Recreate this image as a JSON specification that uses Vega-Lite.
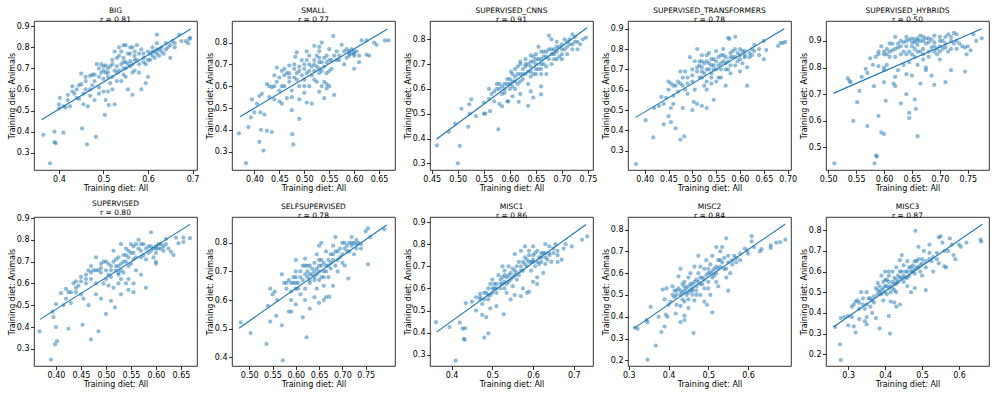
{
"$schema":"https://vega.github.io/schema/vega-lite/v6.json",
"padding":{"left":7,"top":6,"right":5,"bottom":5},
"columns":5,
"spacing":{"row":47,"column":35},
"bounds":"flush",
"datasets":{
"fit":[
{"p":1,"x":0.361,"y":0.456},{"p":1,"x":0.696,"y":0.887},
{"p":2,"x":0.371,"y":0.46},{"p":2,"x":0.667,"y":0.862},
{"p":3,"x":0.459,"y":0.397},{"p":3,"x":0.748,"y":0.847},
{"p":4,"x":0.381,"y":0.464},{"p":4,"x":0.693,"y":0.9},
{"p":5,"x":0.509,"y":0.703},{"p":5,"x":0.775,"y":0.946},
{"p":6,"x":0.368,"y":0.435},{"p":6,"x":0.668,"y":0.871},
{"p":7,"x":0.478,"y":0.502},{"p":7,"x":0.795,"y":0.862},
{"p":8,"x":0.363,"y":0.402},{"p":8,"x":0.73,"y":0.889},
{"p":9,"x":0.314,"y":0.348},{"p":9,"x":0.693,"y":0.825},
{"p":10,"x":0.26,"y":0.332},{"p":10,"x":0.663,"y":0.829}
],
"pts":[
{"p":1,"x":0.365,"y":0.385},{"p":1,"x":0.38,"y":0.25},{"p":1,"x":0.39,"y":0.40},{"p":1,"x":0.39,"y":0.35},{"p":1,"x":0.393,"y":0.345},{"p":1,"x":0.41,"y":0.395},{"p":1,"x":0.452,"y":0.415},{"p":1,"x":0.463,"y":0.34},{"p":1,"x":0.483,"y":0.375},{"p":1,"x":0.503,"y":0.48},{"p":1,"x":0.525,"y":0.53},{"p":1,"x":0.512,"y":0.526},
{"p":1,"x":0.40,"y":0.51},{"p":1,"x":0.40,"y":0.53},{"p":1,"x":0.402,"y":0.56},{"p":1,"x":0.41,"y":0.52},{"p":1,"x":0.415,"y":0.515},{"p":1,"x":0.42,"y":0.575},{"p":1,"x":0.425,"y":0.52},{"p":1,"x":0.43,"y":0.59},{"p":1,"x":0.43,"y":0.615},{"p":1,"x":0.435,"y":0.58},{"p":1,"x":0.44,"y":0.56},{"p":1,"x":0.44,"y":0.6},{"p":1,"x":0.445,"y":0.555},{"p":1,"x":0.45,"y":0.675},{"p":1,"x":0.45,"y":0.625},{"p":1,"x":0.455,"y":0.53},{"p":1,"x":0.46,"y":0.6},{"p":1,"x":0.46,"y":0.64},{"p":1,"x":0.465,"y":0.52},{"p":1,"x":0.47,"y":0.665},{"p":1,"x":0.47,"y":0.57},{"p":1,"x":0.475,"y":0.67},{"p":1,"x":0.48,"y":0.55},{"p":1,"x":0.48,"y":0.64},{"p":1,"x":0.485,"y":0.72},{"p":1,"x":0.49,"y":0.7},{"p":1,"x":0.49,"y":0.66},{"p":1,"x":0.49,"y":0.61},{"p":1,"x":0.495,"y":0.72},{"p":1,"x":0.5,"y":0.69},{"p":1,"x":0.5,"y":0.59},{"p":1,"x":0.5,"y":0.65},{"p":1,"x":0.505,"y":0.715},{"p":1,"x":0.51,"y":0.66},{"p":1,"x":0.51,"y":0.7},{"p":1,"x":0.515,"y":0.63},{"p":1,"x":0.52,"y":0.74},{"p":1,"x":0.52,"y":0.6},{"p":1,"x":0.52,"y":0.72},{"p":1,"x":0.525,"y":0.78},{"p":1,"x":0.53,"y":0.71},{"p":1,"x":0.53,"y":0.68},{"p":1,"x":0.535,"y":0.8},{"p":1,"x":0.535,"y":0.76},{"p":1,"x":0.54,"y":0.72},{"p":1,"x":0.54,"y":0.64},{"p":1,"x":0.545,"y":0.75},{"p":1,"x":0.545,"y":0.7},{"p":1,"x":0.55,"y":0.81},{"p":1,"x":0.55,"y":0.73},{"p":1,"x":0.55,"y":0.66},{"p":1,"x":0.555,"y":0.6},{"p":1,"x":0.56,"y":0.77},{"p":1,"x":0.56,"y":0.71},{"p":1,"x":0.565,"y":0.8},{"p":1,"x":0.565,"y":0.575},{"p":1,"x":0.57,"y":0.74},{"p":1,"x":0.57,"y":0.69},{"p":1,"x":0.575,"y":0.81},{"p":1,"x":0.58,"y":0.77},{"p":1,"x":0.58,"y":0.68},{"p":1,"x":0.585,"y":0.6},{"p":1,"x":0.59,"y":0.75},{"p":1,"x":0.59,"y":0.73},{"p":1,"x":0.595,"y":0.63},{"p":1,"x":0.6,"y":0.78},{"p":1,"x":0.6,"y":0.74},{"p":1,"x":0.605,"y":0.77},{"p":1,"x":0.61,"y":0.8},{"p":1,"x":0.61,"y":0.76},{"p":1,"x":0.615,"y":0.78},{"p":1,"x":0.62,"y":0.86},{"p":1,"x":0.62,"y":0.82},{"p":1,"x":0.62,"y":0.77},{"p":1,"x":0.625,"y":0.79},{"p":1,"x":0.63,"y":0.8},{"p":1,"x":0.635,"y":0.77},{"p":1,"x":0.64,"y":0.82},{"p":1,"x":0.645,"y":0.8},{"p":1,"x":0.65,"y":0.75},{"p":1,"x":0.655,"y":0.83},{"p":1,"x":0.66,"y":0.82},{"p":1,"x":0.67,"y":0.86},{"p":1,"x":0.69,"y":0.82},{"p":1,"x":0.693,"y":0.84},{"p":1,"x":0.695,"y":0.845},{"p":1,"x":0.58,"y":0.72},{"p":1,"x":0.535,"y":0.69},{"p":1,"x":0.505,"y":0.55},{"p":1,"x":0.56,"y":0.735},{"p":1,"x":0.6,"y":0.66},{"p":1,"x":0.51,"y":0.59},{"p":1,"x":0.49,"y":0.58},{"p":1,"x":0.47,"y":0.6},{"p":1,"x":0.545,"y":0.81},{"p":1,"x":0.565,"y":0.68},
{"p":1,"x":0.505,"y":0.68},{"p":1,"x":0.515,"y":0.71},{"p":1,"x":0.525,"y":0.69},{"p":1,"x":0.53,"y":0.75},{"p":1,"x":0.54,"y":0.78},{"p":1,"x":0.545,"y":0.73},{"p":1,"x":0.55,"y":0.7},{"p":1,"x":0.555,"y":0.77},{"p":1,"x":0.56,"y":0.8},{"p":1,"x":0.565,"y":0.72},{"p":1,"x":0.57,"y":0.78},{"p":1,"x":0.575,"y":0.74},{"p":1,"x":0.585,"y":0.79},{"p":1,"x":0.59,"y":0.77},{"p":1,"x":0.595,"y":0.72},{"p":1,"x":0.605,"y":0.74},{"p":1,"x":0.61,"y":0.78},{"p":1,"x":0.615,"y":0.75},{"p":1,"x":0.62,"y":0.79},{"p":1,"x":0.625,"y":0.76},{"p":1,"x":0.63,"y":0.78},{"p":1,"x":0.64,"y":0.79},{"p":1,"x":0.65,"y":0.81},{"p":1,"x":0.66,"y":0.8},{"p":1,"x":0.675,"y":0.83},{"p":1,"x":0.685,"y":0.83},{"p":1,"x":0.48,"y":0.67},{"p":1,"x":0.495,"y":0.68},{"p":1,"x":0.5,"y":0.71},{"p":1,"x":0.51,"y":0.68},{"p":1,"x":0.52,"y":0.66},{"p":1,"x":0.53,"y":0.64},{"p":1,"x":0.46,"y":0.66},{"p":1,"x":0.445,"y":0.62},{"p":1,"x":0.42,"y":0.55},{"p":1,"x":0.455,"y":0.58},{"p":1,"x":0.475,"y":0.62},{"p":1,"x":0.545,"y":0.67},{"p":1,"x":0.555,"y":0.72},{"p":1,"x":0.57,"y":0.76},
{"p":2,"x":0.369,"y":0.384},{"p":2,"x":0.383,"y":0.247},{"p":2,"x":0.388,"y":0.413},{"p":2,"x":0.393,"y":0.457},{"p":2,"x":0.395,"y":0.54},{"p":2,"x":0.41,"y":0.345},{"p":2,"x":0.413,"y":0.40},{"p":2,"x":0.418,"y":0.305},{"p":2,"x":0.425,"y":0.395},{"p":2,"x":0.435,"y":0.39},{"p":2,"x":0.476,"y":0.38},{"p":2,"x":0.478,"y":0.333},{"p":2,"x":0.49,"y":0.45},{"p":2,"x":0.45,"y":0.53},
{"p":2,"x":0.40,"y":0.48},{"p":2,"x":0.405,"y":0.52},{"p":2,"x":0.41,"y":0.555},{"p":2,"x":0.412,"y":0.48},{"p":2,"x":0.415,"y":0.565},{"p":2,"x":0.42,"y":0.47},{"p":2,"x":0.425,"y":0.61},{"p":2,"x":0.43,"y":0.55},{"p":2,"x":0.435,"y":0.595},{"p":2,"x":0.44,"y":0.6},{"p":2,"x":0.44,"y":0.54},{"p":2,"x":0.445,"y":0.685},{"p":2,"x":0.445,"y":0.62},{"p":2,"x":0.45,"y":0.64},{"p":2,"x":0.45,"y":0.58},{"p":2,"x":0.455,"y":0.52},{"p":2,"x":0.455,"y":0.67},{"p":2,"x":0.46,"y":0.65},{"p":2,"x":0.46,"y":0.6},{"p":2,"x":0.465,"y":0.66},{"p":2,"x":0.465,"y":0.545},{"p":2,"x":0.47,"y":0.695},{"p":2,"x":0.47,"y":0.62},{"p":2,"x":0.475,"y":0.58},{"p":2,"x":0.475,"y":0.55},{"p":2,"x":0.48,"y":0.68},{"p":2,"x":0.48,"y":0.64},{"p":2,"x":0.482,"y":0.735},{"p":2,"x":0.485,"y":0.755},{"p":2,"x":0.485,"y":0.66},{"p":2,"x":0.49,"y":0.69},{"p":2,"x":0.49,"y":0.6},{"p":2,"x":0.49,"y":0.54},{"p":2,"x":0.495,"y":0.72},{"p":2,"x":0.495,"y":0.65},{"p":2,"x":0.5,"y":0.68},{"p":2,"x":0.5,"y":0.63},{"p":2,"x":0.5,"y":0.57},{"p":2,"x":0.505,"y":0.76},{"p":2,"x":0.505,"y":0.66},{"p":2,"x":0.51,"y":0.7},{"p":2,"x":0.51,"y":0.74},{"p":2,"x":0.51,"y":0.6},{"p":2,"x":0.515,"y":0.65},{"p":2,"x":0.515,"y":0.52},{"p":2,"x":0.52,"y":0.785},{"p":2,"x":0.52,"y":0.67},{"p":2,"x":0.52,"y":0.72},{"p":2,"x":0.525,"y":0.69},{"p":2,"x":0.525,"y":0.62},{"p":2,"x":0.53,"y":0.78},{"p":2,"x":0.53,"y":0.76},{"p":2,"x":0.53,"y":0.71},{"p":2,"x":0.535,"y":0.67},{"p":2,"x":0.535,"y":0.6},{"p":2,"x":0.54,"y":0.73},{"p":2,"x":0.54,"y":0.545},{"p":2,"x":0.545,"y":0.71},{"p":2,"x":0.545,"y":0.61},{"p":2,"x":0.55,"y":0.77},{"p":2,"x":0.55,"y":0.67},{"p":2,"x":0.555,"y":0.72},{"p":2,"x":0.558,"y":0.83},{"p":2,"x":0.56,"y":0.56},{"p":2,"x":0.565,"y":0.72},{"p":2,"x":0.57,"y":0.74},{"p":2,"x":0.575,"y":0.79},{"p":2,"x":0.58,"y":0.76},{"p":2,"x":0.58,"y":0.7},{"p":2,"x":0.585,"y":0.73},{"p":2,"x":0.59,"y":0.76},{"p":2,"x":0.59,"y":0.75},{"p":2,"x":0.595,"y":0.77},{"p":2,"x":0.6,"y":0.76},{"p":2,"x":0.6,"y":0.74},{"p":2,"x":0.6,"y":0.68},{"p":2,"x":0.61,"y":0.71},{"p":2,"x":0.615,"y":0.81},{"p":2,"x":0.625,"y":0.81},{"p":2,"x":0.625,"y":0.745},{"p":2,"x":0.63,"y":0.74},{"p":2,"x":0.64,"y":0.8},{"p":2,"x":0.645,"y":0.79},{"p":2,"x":0.662,"y":0.81},{"p":2,"x":0.669,"y":0.81},{"p":2,"x":0.535,"y":0.8},{"p":2,"x":0.505,"y":0.525},{"p":2,"x":0.545,"y":0.59},{"p":2,"x":0.53,"y":0.575},{"p":2,"x":0.475,"y":0.49},
{"p":2,"x":0.46,"y":0.68},{"p":2,"x":0.47,"y":0.66},{"p":2,"x":0.48,"y":0.7},{"p":2,"x":0.49,"y":0.67},{"p":2,"x":0.5,"y":0.7},{"p":2,"x":0.505,"y":0.72},{"p":2,"x":0.51,"y":0.67},{"p":2,"x":0.515,"y":0.69},{"p":2,"x":0.52,"y":0.7},{"p":2,"x":0.525,"y":0.74},{"p":2,"x":0.53,"y":0.68},{"p":2,"x":0.535,"y":0.71},{"p":2,"x":0.54,"y":0.69},{"p":2,"x":0.545,"y":0.74},{"p":2,"x":0.55,"y":0.72},{"p":2,"x":0.555,"y":0.68},{"p":2,"x":0.56,"y":0.74},{"p":2,"x":0.565,"y":0.76},{"p":2,"x":0.57,"y":0.72},{"p":2,"x":0.59,"y":0.74},{"p":2,"x":0.595,"y":0.75},{"p":2,"x":0.6,"y":0.75},{"p":2,"x":0.605,"y":0.76},{"p":2,"x":0.61,"y":0.74},{"p":2,"x":0.585,"y":0.77},{"p":2,"x":0.53,"y":0.73},{"p":2,"x":0.52,"y":0.63},{"p":2,"x":0.5,"y":0.6},{"p":2,"x":0.485,"y":0.63},{"p":2,"x":0.47,"y":0.64},{"p":2,"x":0.455,"y":0.6},{"p":2,"x":0.44,"y":0.65},{"p":2,"x":0.43,"y":0.6},{"p":2,"x":0.53,"y":0.66},{"p":2,"x":0.54,"y":0.62},{"p":2,"x":0.55,"y":0.6},{"p":2,"x":0.545,"y":0.66},
{"p":3,"x":0.46,"y":0.372},{"p":3,"x":0.483,"y":0.427},{"p":3,"x":0.495,"y":0.46},{"p":3,"x":0.5,"y":0.30},{"p":3,"x":0.504,"y":0.37},{"p":3,"x":0.507,"y":0.52},{"p":3,"x":0.52,"y":0.447},{"p":3,"x":0.522,"y":0.538},{"p":3,"x":0.526,"y":0.558},{"p":3,"x":0.523,"y":0.5},{"p":3,"x":0.535,"y":0.49},{"p":3,"x":0.55,"y":0.50},{"p":3,"x":0.553,"y":0.50},{"p":3,"x":0.562,"y":0.51},{"p":3,"x":0.578,"y":0.437},{"p":3,"x":0.58,"y":0.54},{"p":3,"x":0.585,"y":0.53},{"p":3,"x":0.597,"y":0.55},{"p":3,"x":0.617,"y":0.548},{"p":3,"x":0.635,"y":0.532},{"p":3,"x":0.645,"y":0.565},{"p":3,"x":0.66,"y":0.578},
{"p":3,"x":0.55,"y":0.545},{"p":3,"x":0.56,"y":0.56},{"p":3,"x":0.565,"y":0.58},{"p":3,"x":0.57,"y":0.55},{"p":3,"x":0.575,"y":0.6},{"p":3,"x":0.58,"y":0.6},{"p":3,"x":0.585,"y":0.61},{"p":3,"x":0.59,"y":0.585},{"p":3,"x":0.59,"y":0.62},{"p":3,"x":0.595,"y":0.64},{"p":3,"x":0.6,"y":0.62},{"p":3,"x":0.6,"y":0.6},{"p":3,"x":0.602,"y":0.67},{"p":3,"x":0.605,"y":0.63},{"p":3,"x":0.61,"y":0.65},{"p":3,"x":0.61,"y":0.6},{"p":3,"x":0.615,"y":0.69},{"p":3,"x":0.615,"y":0.62},{"p":3,"x":0.62,"y":0.66},{"p":3,"x":0.62,"y":0.7},{"p":3,"x":0.625,"y":0.68},{"p":3,"x":0.625,"y":0.64},{"p":3,"x":0.63,"y":0.72},{"p":3,"x":0.63,"y":0.66},{"p":3,"x":0.635,"y":0.7},{"p":3,"x":0.635,"y":0.62},{"p":3,"x":0.64,"y":0.735},{"p":3,"x":0.64,"y":0.69},{"p":3,"x":0.645,"y":0.71},{"p":3,"x":0.645,"y":0.66},{"p":3,"x":0.65,"y":0.74},{"p":3,"x":0.65,"y":0.7},{"p":3,"x":0.655,"y":0.77},{"p":3,"x":0.655,"y":0.68},{"p":3,"x":0.66,"y":0.72},{"p":3,"x":0.66,"y":0.66},{"p":3,"x":0.665,"y":0.75},{"p":3,"x":0.665,"y":0.7},{"p":3,"x":0.67,"y":0.73},{"p":3,"x":0.67,"y":0.69},{"p":3,"x":0.675,"y":0.815},{"p":3,"x":0.675,"y":0.76},{"p":3,"x":0.68,"y":0.74},{"p":3,"x":0.68,"y":0.7},{"p":3,"x":0.685,"y":0.76},{"p":3,"x":0.685,"y":0.72},{"p":3,"x":0.69,"y":0.79},{"p":3,"x":0.69,"y":0.75},{"p":3,"x":0.695,"y":0.73},{"p":3,"x":0.7,"y":0.78},{"p":3,"x":0.7,"y":0.76},{"p":3,"x":0.705,"y":0.8},{"p":3,"x":0.71,"y":0.77},{"p":3,"x":0.71,"y":0.74},{"p":3,"x":0.715,"y":0.8},{"p":3,"x":0.72,"y":0.82},{"p":3,"x":0.72,"y":0.78},{"p":3,"x":0.725,"y":0.81},{"p":3,"x":0.73,"y":0.79},{"p":3,"x":0.73,"y":0.76},{"p":3,"x":0.74,"y":0.8},{"p":3,"x":0.746,"y":0.807},{"p":3,"x":0.64,"y":0.65},{"p":3,"x":0.66,"y":0.61},{"p":3,"x":0.62,"y":0.58},{"p":3,"x":0.595,"y":0.55},{"p":3,"x":0.64,"y":0.59},{"p":3,"x":0.67,"y":0.66},{"p":3,"x":0.68,"y":0.8},{"p":3,"x":0.7,"y":0.72},{"p":3,"x":0.605,"y":0.57},{"p":3,"x":0.575,"y":0.62},{"p":3,"x":0.56,"y":0.6},{"p":3,"x":0.63,"y":0.69},{"p":3,"x":0.65,"y":0.72},{"p":3,"x":0.62,"y":0.71},{"p":3,"x":0.66,"y":0.75},{"p":3,"x":0.61,"y":0.68},{"p":3,"x":0.69,"y":0.77},
{"p":3,"x":0.6,"y":0.64},{"p":3,"x":0.605,"y":0.61},{"p":3,"x":0.61,"y":0.63},{"p":3,"x":0.615,"y":0.66},{"p":3,"x":0.62,"y":0.63},{"p":3,"x":0.625,"y":0.66},{"p":3,"x":0.63,"y":0.7},{"p":3,"x":0.635,"y":0.67},{"p":3,"x":0.64,"y":0.71},{"p":3,"x":0.645,"y":0.73},{"p":3,"x":0.65,"y":0.68},{"p":3,"x":0.655,"y":0.72},{"p":3,"x":0.66,"y":0.7},{"p":3,"x":0.665,"y":0.73},{"p":3,"x":0.67,"y":0.75},{"p":3,"x":0.675,"y":0.72},{"p":3,"x":0.68,"y":0.76},{"p":3,"x":0.685,"y":0.74},{"p":3,"x":0.69,"y":0.72},{"p":3,"x":0.695,"y":0.77},{"p":3,"x":0.7,"y":0.74},{"p":3,"x":0.705,"y":0.76},{"p":3,"x":0.71,"y":0.79},{"p":3,"x":0.715,"y":0.78},{"p":3,"x":0.72,"y":0.76},{"p":3,"x":0.725,"y":0.79},{"p":3,"x":0.735,"y":0.78},{"p":3,"x":0.59,"y":0.6},{"p":3,"x":0.585,"y":0.58},{"p":3,"x":0.57,"y":0.59},{"p":3,"x":0.58,"y":0.62},{"p":3,"x":0.595,"y":0.62},{"p":3,"x":0.605,"y":0.66},{"p":3,"x":0.64,"y":0.67},{"p":3,"x":0.65,"y":0.66},{"p":3,"x":0.66,"y":0.68},
{"p":4,"x":0.382,"y":0.235},{"p":4,"x":0.402,"y":0.45},{"p":4,"x":0.418,"y":0.365},{"p":4,"x":0.44,"y":0.43},{"p":4,"x":0.45,"y":0.47},{"p":4,"x":0.455,"y":0.44},{"p":4,"x":0.465,"y":0.41},{"p":4,"x":0.475,"y":0.355},{"p":4,"x":0.483,"y":0.37},{"p":4,"x":0.48,"y":0.51},{"p":4,"x":0.5,"y":0.50},{"p":4,"x":0.51,"y":0.53},{"p":4,"x":0.52,"y":0.52},{"p":4,"x":0.53,"y":0.51},{"p":4,"x":0.545,"y":0.55},{"p":4,"x":0.503,"y":0.54},{"p":4,"x":0.455,"y":0.51},
{"p":4,"x":0.42,"y":0.51},{"p":4,"x":0.43,"y":0.52},{"p":4,"x":0.435,"y":0.565},{"p":4,"x":0.44,"y":0.53},{"p":4,"x":0.445,"y":0.56},{"p":4,"x":0.45,"y":0.64},{"p":4,"x":0.45,"y":0.6},{"p":4,"x":0.455,"y":0.63},{"p":4,"x":0.46,"y":0.53},{"p":4,"x":0.46,"y":0.57},{"p":4,"x":0.465,"y":0.62},{"p":4,"x":0.47,"y":0.59},{"p":4,"x":0.475,"y":0.69},{"p":4,"x":0.475,"y":0.63},{"p":4,"x":0.48,"y":0.62},{"p":4,"x":0.485,"y":0.69},{"p":4,"x":0.485,"y":0.6},{"p":4,"x":0.49,"y":0.66},{"p":4,"x":0.49,"y":0.58},{"p":4,"x":0.495,"y":0.76},{"p":4,"x":0.5,"y":0.7},{"p":4,"x":0.5,"y":0.64},{"p":4,"x":0.505,"y":0.74},{"p":4,"x":0.505,"y":0.6},{"p":4,"x":0.51,"y":0.8},{"p":4,"x":0.51,"y":0.69},{"p":4,"x":0.515,"y":0.72},{"p":4,"x":0.515,"y":0.66},{"p":4,"x":0.52,"y":0.77},{"p":4,"x":0.52,"y":0.71},{"p":4,"x":0.525,"y":0.68},{"p":4,"x":0.525,"y":0.62},{"p":4,"x":0.53,"y":0.74},{"p":4,"x":0.53,"y":0.64},{"p":4,"x":0.535,"y":0.7},{"p":4,"x":0.535,"y":0.78},{"p":4,"x":0.54,"y":0.72},{"p":4,"x":0.54,"y":0.68},{"p":4,"x":0.545,"y":0.75},{"p":4,"x":0.545,"y":0.7},{"p":4,"x":0.55,"y":0.79},{"p":4,"x":0.55,"y":0.74},{"p":4,"x":0.555,"y":0.66},{"p":4,"x":0.555,"y":0.72},{"p":4,"x":0.56,"y":0.77},{"p":4,"x":0.56,"y":0.7},{"p":4,"x":0.565,"y":0.8},{"p":4,"x":0.565,"y":0.74},{"p":4,"x":0.57,"y":0.76},{"p":4,"x":0.57,"y":0.62},{"p":4,"x":0.575,"y":0.855},{"p":4,"x":0.575,"y":0.7},{"p":4,"x":0.578,"y":0.85},{"p":4,"x":0.58,"y":0.78},{"p":4,"x":0.585,"y":0.76},{"p":4,"x":0.59,"y":0.86},{"p":4,"x":0.59,"y":0.8},{"p":4,"x":0.59,"y":0.72},{"p":4,"x":0.595,"y":0.78},{"p":4,"x":0.6,"y":0.8},{"p":4,"x":0.6,"y":0.75},{"p":4,"x":0.605,"y":0.73},{"p":4,"x":0.61,"y":0.79},{"p":4,"x":0.61,"y":0.76},{"p":4,"x":0.615,"y":0.62},{"p":4,"x":0.615,"y":0.71},{"p":4,"x":0.62,"y":0.78},{"p":4,"x":0.625,"y":0.77},{"p":4,"x":0.63,"y":0.82},{"p":4,"x":0.63,"y":0.79},{"p":4,"x":0.64,"y":0.8},{"p":4,"x":0.65,"y":0.84},{"p":4,"x":0.65,"y":0.75},{"p":4,"x":0.655,"y":0.795},{"p":4,"x":0.68,"y":0.815},{"p":4,"x":0.685,"y":0.83},{"p":4,"x":0.69,"y":0.83},{"p":4,"x":0.695,"y":0.835},{"p":4,"x":0.6,"y":0.69},{"p":4,"x":0.56,"y":0.66},{"p":4,"x":0.53,"y":0.6},{"p":4,"x":0.54,"y":0.63},{"p":4,"x":0.58,"y":0.72},{"p":4,"x":0.52,"y":0.66},{"p":4,"x":0.57,"y":0.73},
{"p":4,"x":0.5,"y":0.67},{"p":4,"x":0.51,"y":0.71},{"p":4,"x":0.515,"y":0.74},{"p":4,"x":0.52,"y":0.69},{"p":4,"x":0.525,"y":0.73},{"p":4,"x":0.53,"y":0.7},{"p":4,"x":0.535,"y":0.73},{"p":4,"x":0.54,"y":0.75},{"p":4,"x":0.545,"y":0.72},{"p":4,"x":0.55,"y":0.7},{"p":4,"x":0.555,"y":0.76},{"p":4,"x":0.56,"y":0.73},{"p":4,"x":0.565,"y":0.77},{"p":4,"x":0.57,"y":0.7},{"p":4,"x":0.575,"y":0.74},{"p":4,"x":0.58,"y":0.76},{"p":4,"x":0.585,"y":0.79},{"p":4,"x":0.59,"y":0.76},{"p":4,"x":0.595,"y":0.74},{"p":4,"x":0.6,"y":0.77},{"p":4,"x":0.605,"y":0.79},{"p":4,"x":0.61,"y":0.77},{"p":4,"x":0.62,"y":0.76},{"p":4,"x":0.625,"y":0.8},{"p":4,"x":0.64,"y":0.77},{"p":4,"x":0.48,"y":0.66},{"p":4,"x":0.49,"y":0.63},{"p":4,"x":0.47,"y":0.64},{"p":4,"x":0.46,"y":0.62},{"p":4,"x":0.54,"y":0.66},{"p":4,"x":0.55,"y":0.64},{"p":4,"x":0.58,"y":0.68},{"p":4,"x":0.52,"y":0.74},{"p":4,"x":0.53,"y":0.77},
{"p":5,"x":0.511,"y":0.44},{"p":5,"x":0.545,"y":0.60},{"p":5,"x":0.552,"y":0.67},{"p":5,"x":0.556,"y":0.712},{"p":5,"x":0.57,"y":0.58},{"p":5,"x":0.582,"y":0.73},{"p":5,"x":0.583,"y":0.44},{"p":5,"x":0.586,"y":0.47},{"p":5,"x":0.587,"y":0.465},{"p":5,"x":0.59,"y":0.618},{"p":5,"x":0.595,"y":0.556},{"p":5,"x":0.6,"y":0.55},{"p":5,"x":0.603,"y":0.675},{"p":5,"x":0.6,"y":0.745},{"p":5,"x":0.617,"y":0.74},{"p":5,"x":0.62,"y":0.73},{"p":5,"x":0.63,"y":0.665},{"p":5,"x":0.64,"y":0.70},{"p":5,"x":0.645,"y":0.61},{"p":5,"x":0.645,"y":0.63},{"p":5,"x":0.655,"y":0.68},{"p":5,"x":0.657,"y":0.645},{"p":5,"x":0.66,"y":0.542},{"p":5,"x":0.665,"y":0.74},{"p":5,"x":0.69,"y":0.735},{"p":5,"x":0.71,"y":0.745},{"p":5,"x":0.745,"y":0.785},{"p":5,"x":0.535,"y":0.76},{"p":5,"x":0.54,"y":0.745},{"p":5,"x":0.538,"y":0.75},{"p":5,"x":0.56,"y":0.765},{"p":5,"x":0.567,"y":0.795},
{"p":5,"x":0.575,"y":0.835},{"p":5,"x":0.58,"y":0.81},{"p":5,"x":0.585,"y":0.84},{"p":5,"x":0.59,"y":0.805},{"p":5,"x":0.59,"y":0.86},{"p":5,"x":0.595,"y":0.88},{"p":5,"x":0.6,"y":0.85},{"p":5,"x":0.6,"y":0.79},{"p":5,"x":0.605,"y":0.87},{"p":5,"x":0.61,"y":0.84},{"p":5,"x":0.61,"y":0.89},{"p":5,"x":0.615,"y":0.865},{"p":5,"x":0.62,"y":0.915},{"p":5,"x":0.62,"y":0.84},{"p":5,"x":0.625,"y":0.875},{"p":5,"x":0.63,"y":0.9},{"p":5,"x":0.63,"y":0.85},{"p":5,"x":0.635,"y":0.81},{"p":5,"x":0.64,"y":0.915},{"p":5,"x":0.64,"y":0.88},{"p":5,"x":0.645,"y":0.86},{"p":5,"x":0.645,"y":0.82},{"p":5,"x":0.65,"y":0.91},{"p":5,"x":0.65,"y":0.895},{"p":5,"x":0.655,"y":0.87},{"p":5,"x":0.655,"y":0.84},{"p":5,"x":0.66,"y":0.91},{"p":5,"x":0.66,"y":0.885},{"p":5,"x":0.665,"y":0.92},{"p":5,"x":0.665,"y":0.86},{"p":5,"x":0.67,"y":0.9},{"p":5,"x":0.67,"y":0.83},{"p":5,"x":0.675,"y":0.89},{"p":5,"x":0.675,"y":0.8},{"p":5,"x":0.68,"y":0.91},{"p":5,"x":0.68,"y":0.86},{"p":5,"x":0.685,"y":0.875},{"p":5,"x":0.69,"y":0.92},{"p":5,"x":0.69,"y":0.895},{"p":5,"x":0.695,"y":0.85},{"p":5,"x":0.7,"y":0.9},{"p":5,"x":0.7,"y":0.83},{"p":5,"x":0.705,"y":0.87},{"p":5,"x":0.71,"y":0.915},{"p":5,"x":0.71,"y":0.89},{"p":5,"x":0.715,"y":0.925},{"p":5,"x":0.715,"y":0.86},{"p":5,"x":0.72,"y":0.9},{"p":5,"x":0.725,"y":0.93},{"p":5,"x":0.73,"y":0.925},{"p":5,"x":0.73,"y":0.87},{"p":5,"x":0.745,"y":0.875},{"p":5,"x":0.75,"y":0.88},{"p":5,"x":0.755,"y":0.865},{"p":5,"x":0.76,"y":0.925},{"p":5,"x":0.765,"y":0.9},{"p":5,"x":0.775,"y":0.91},{"p":5,"x":0.748,"y":0.85},{"p":5,"x":0.64,"y":0.775},{"p":5,"x":0.65,"y":0.77},{"p":5,"x":0.675,"y":0.79},{"p":5,"x":0.685,"y":0.77},{"p":5,"x":0.66,"y":0.81},{"p":5,"x":0.62,"y":0.765},{"p":5,"x":0.6,"y":0.8},{"p":5,"x":0.605,"y":0.81},{"p":5,"x":0.625,"y":0.79},{"p":5,"x":0.57,"y":0.78},{"p":5,"x":0.72,"y":0.79},{"p":5,"x":0.735,"y":0.89},{"p":5,"x":0.74,"y":0.88},{"p":5,"x":0.635,"y":0.86},{"p":5,"x":0.67,"y":0.87},{"p":5,"x":0.695,"y":0.87},{"p":5,"x":0.655,"y":0.905},{"p":5,"x":0.7,"y":0.88},
{"p":5,"x":0.62,"y":0.87},{"p":5,"x":0.625,"y":0.89},{"p":5,"x":0.63,"y":0.88},{"p":5,"x":0.635,"y":0.895},{"p":5,"x":0.64,"y":0.9},{"p":5,"x":0.645,"y":0.905},{"p":5,"x":0.65,"y":0.88},{"p":5,"x":0.655,"y":0.895},{"p":5,"x":0.66,"y":0.9},{"p":5,"x":0.665,"y":0.9},{"p":5,"x":0.67,"y":0.915},{"p":5,"x":0.675,"y":0.91},{"p":5,"x":0.68,"y":0.895},{"p":5,"x":0.685,"y":0.905},{"p":5,"x":0.69,"y":0.88},{"p":5,"x":0.7,"y":0.915},{"p":5,"x":0.705,"y":0.9},{"p":5,"x":0.71,"y":0.875},{"p":5,"x":0.72,"y":0.915},{"p":5,"x":0.725,"y":0.89},{"p":5,"x":0.73,"y":0.9},{"p":5,"x":0.61,"y":0.86},{"p":5,"x":0.605,"y":0.85},{"p":5,"x":0.615,"y":0.89},{"p":5,"x":0.6,"y":0.86},{"p":5,"x":0.59,"y":0.85},{"p":5,"x":0.64,"y":0.85},{"p":5,"x":0.66,"y":0.86},{"p":5,"x":0.68,"y":0.84},{"p":5,"x":0.7,"y":0.86},{"p":5,"x":0.72,"y":0.87},{"p":5,"x":0.65,"y":0.85},{"p":5,"x":0.67,"y":0.85},{"p":5,"x":0.69,"y":0.86},
{"p":6,"x":0.367,"y":0.38},{"p":6,"x":0.39,"y":0.25},{"p":6,"x":0.393,"y":0.47},{"p":6,"x":0.395,"y":0.445},{"p":6,"x":0.398,"y":0.32},{"p":6,"x":0.4,"y":0.4},{"p":6,"x":0.402,"y":0.335},{"p":6,"x":0.425,"y":0.392},{"p":6,"x":0.453,"y":0.41},{"p":6,"x":0.47,"y":0.343},{"p":6,"x":0.485,"y":0.38},{"p":6,"x":0.5,"y":0.46},{"p":6,"x":0.518,"y":0.49},{"p":6,"x":0.53,"y":0.55},{"p":6,"x":0.58,"y":0.58},{"p":6,"x":0.555,"y":0.56},{"p":6,"x":0.545,"y":0.57},{"p":6,"x":0.515,"y":0.58},{"p":6,"x":0.49,"y":0.53},{"p":6,"x":0.48,"y":0.55},{"p":6,"x":0.465,"y":0.5},
{"p":6,"x":0.4,"y":0.505},{"p":6,"x":0.41,"y":0.555},{"p":6,"x":0.415,"y":0.5},{"p":6,"x":0.42,"y":0.53},{"p":6,"x":0.42,"y":0.575},{"p":6,"x":0.425,"y":0.56},{"p":6,"x":0.43,"y":0.51},{"p":6,"x":0.435,"y":0.6},{"p":6,"x":0.44,"y":0.61},{"p":6,"x":0.44,"y":0.56},{"p":6,"x":0.445,"y":0.59},{"p":6,"x":0.45,"y":0.61},{"p":6,"x":0.45,"y":0.55},{"p":6,"x":0.455,"y":0.53},{"p":6,"x":0.46,"y":0.64},{"p":6,"x":0.46,"y":0.6},{"p":6,"x":0.465,"y":0.66},{"p":6,"x":0.47,"y":0.68},{"p":6,"x":0.47,"y":0.62},{"p":6,"x":0.475,"y":0.66},{"p":6,"x":0.48,"y":0.72},{"p":6,"x":0.48,"y":0.6},{"p":6,"x":0.485,"y":0.66},{"p":6,"x":0.49,"y":0.65},{"p":6,"x":0.49,"y":0.69},{"p":6,"x":0.495,"y":0.7},{"p":6,"x":0.5,"y":0.7},{"p":6,"x":0.5,"y":0.62},{"p":6,"x":0.505,"y":0.64},{"p":6,"x":0.51,"y":0.63},{"p":6,"x":0.51,"y":0.68},{"p":6,"x":0.515,"y":0.75},{"p":6,"x":0.52,"y":0.66},{"p":6,"x":0.52,"y":0.71},{"p":6,"x":0.525,"y":0.68},{"p":6,"x":0.525,"y":0.6},{"p":6,"x":0.53,"y":0.78},{"p":6,"x":0.53,"y":0.69},{"p":6,"x":0.535,"y":0.73},{"p":6,"x":0.535,"y":0.65},{"p":6,"x":0.54,"y":0.76},{"p":6,"x":0.54,"y":0.7},{"p":6,"x":0.545,"y":0.68},{"p":6,"x":0.545,"y":0.62},{"p":6,"x":0.55,"y":0.78},{"p":6,"x":0.55,"y":0.74},{"p":6,"x":0.555,"y":0.77},{"p":6,"x":0.555,"y":0.71},{"p":6,"x":0.56,"y":0.78},{"p":6,"x":0.56,"y":0.66},{"p":6,"x":0.565,"y":0.8},{"p":6,"x":0.57,"y":0.75},{"p":6,"x":0.57,"y":0.72},{"p":6,"x":0.575,"y":0.78},{"p":6,"x":0.58,"y":0.71},{"p":6,"x":0.585,"y":0.77},{"p":6,"x":0.59,"y":0.835},{"p":6,"x":0.59,"y":0.75},{"p":6,"x":0.595,"y":0.72},{"p":6,"x":0.6,"y":0.77},{"p":6,"x":0.6,"y":0.74},{"p":6,"x":0.6,"y":0.69},{"p":6,"x":0.605,"y":0.76},{"p":6,"x":0.61,"y":0.78},{"p":6,"x":0.615,"y":0.77},{"p":6,"x":0.62,"y":0.805},{"p":6,"x":0.625,"y":0.76},{"p":6,"x":0.63,"y":0.745},{"p":6,"x":0.635,"y":0.73},{"p":6,"x":0.64,"y":0.81},{"p":6,"x":0.645,"y":0.785},{"p":6,"x":0.655,"y":0.81},{"p":6,"x":0.655,"y":0.79},{"p":6,"x":0.668,"y":0.808},{"p":6,"x":0.555,"y":0.6},{"p":6,"x":0.525,"y":0.64},{"p":6,"x":0.505,"y":0.59},{"p":6,"x":0.51,"y":0.52},{"p":6,"x":0.495,"y":0.6},{"p":6,"x":0.54,"y":0.6},{"p":6,"x":0.53,"y":0.62},{"p":6,"x":0.57,"y":0.64},{"p":6,"x":0.6,"y":0.7},
{"p":6,"x":0.52,"y":0.68},{"p":6,"x":0.525,"y":0.72},{"p":6,"x":0.53,"y":0.66},{"p":6,"x":0.535,"y":0.7},{"p":6,"x":0.54,"y":0.73},{"p":6,"x":0.545,"y":0.75},{"p":6,"x":0.55,"y":0.69},{"p":6,"x":0.555,"y":0.74},{"p":6,"x":0.56,"y":0.72},{"p":6,"x":0.565,"y":0.76},{"p":6,"x":0.57,"y":0.78},{"p":6,"x":0.575,"y":0.73},{"p":6,"x":0.58,"y":0.76},{"p":6,"x":0.585,"y":0.74},{"p":6,"x":0.59,"y":0.77},{"p":6,"x":0.595,"y":0.76},{"p":6,"x":0.6,"y":0.76},{"p":6,"x":0.605,"y":0.78},{"p":6,"x":0.61,"y":0.76},{"p":6,"x":0.615,"y":0.75},{"p":6,"x":0.62,"y":0.78},{"p":6,"x":0.5,"y":0.66},{"p":6,"x":0.505,"y":0.69},{"p":6,"x":0.51,"y":0.66},{"p":6,"x":0.49,"y":0.67},{"p":6,"x":0.48,"y":0.66},{"p":6,"x":0.47,"y":0.65},{"p":6,"x":0.46,"y":0.62},{"p":6,"x":0.45,"y":0.63},{"p":6,"x":0.44,"y":0.58},{"p":6,"x":0.43,"y":0.56},{"p":6,"x":0.515,"y":0.7},{"p":6,"x":0.525,"y":0.65},{"p":6,"x":0.545,"y":0.72},
{"p":7,"x":0.482,"y":0.522},{"p":7,"x":0.503,"y":0.485},{"p":7,"x":0.537,"y":0.447},{"p":7,"x":0.545,"y":0.525},{"p":7,"x":0.558,"y":0.545},{"p":7,"x":0.57,"y":0.512},{"p":7,"x":0.572,"y":0.39},{"p":7,"x":0.6,"y":0.585},{"p":7,"x":0.615,"y":0.54},{"p":7,"x":0.623,"y":0.47},{"p":7,"x":0.63,"y":0.57},{"p":7,"x":0.585,"y":0.56},{"p":7,"x":0.59,"y":0.56},{"p":7,"x":0.54,"y":0.58},{"p":7,"x":0.65,"y":0.59},{"p":7,"x":0.665,"y":0.61},{"p":7,"x":0.672,"y":0.612},{"p":7,"x":0.713,"y":0.675},{"p":7,"x":0.755,"y":0.725},
{"p":7,"x":0.545,"y":0.64},{"p":7,"x":0.55,"y":0.62},{"p":7,"x":0.555,"y":0.63},{"p":7,"x":0.56,"y":0.6},{"p":7,"x":0.57,"y":0.69},{"p":7,"x":0.575,"y":0.66},{"p":7,"x":0.58,"y":0.64},{"p":7,"x":0.585,"y":0.67},{"p":7,"x":0.59,"y":0.63},{"p":7,"x":0.59,"y":0.6},{"p":7,"x":0.595,"y":0.68},{"p":7,"x":0.6,"y":0.74},{"p":7,"x":0.6,"y":0.7},{"p":7,"x":0.6,"y":0.64},{"p":7,"x":0.605,"y":0.66},{"p":7,"x":0.61,"y":0.7},{"p":7,"x":0.61,"y":0.62},{"p":7,"x":0.615,"y":0.67},{"p":7,"x":0.62,"y":0.745},{"p":7,"x":0.62,"y":0.72},{"p":7,"x":0.62,"y":0.64},{"p":7,"x":0.625,"y":0.7},{"p":7,"x":0.625,"y":0.68},{"p":7,"x":0.63,"y":0.66},{"p":7,"x":0.63,"y":0.72},{"p":7,"x":0.635,"y":0.69},{"p":7,"x":0.64,"y":0.73},{"p":7,"x":0.64,"y":0.67},{"p":7,"x":0.645,"y":0.71},{"p":7,"x":0.645,"y":0.64},{"p":7,"x":0.65,"y":0.79},{"p":7,"x":0.65,"y":0.74},{"p":7,"x":0.65,"y":0.7},{"p":7,"x":0.655,"y":0.8},{"p":7,"x":0.655,"y":0.68},{"p":7,"x":0.66,"y":0.73},{"p":7,"x":0.66,"y":0.65},{"p":7,"x":0.665,"y":0.77},{"p":7,"x":0.665,"y":0.7},{"p":7,"x":0.67,"y":0.72},{"p":7,"x":0.67,"y":0.68},{"p":7,"x":0.675,"y":0.76},{"p":7,"x":0.68,"y":0.79},{"p":7,"x":0.68,"y":0.74},{"p":7,"x":0.685,"y":0.82},{"p":7,"x":0.685,"y":0.72},{"p":7,"x":0.69,"y":0.77},{"p":7,"x":0.695,"y":0.75},{"p":7,"x":0.7,"y":0.8},{"p":7,"x":0.7,"y":0.73},{"p":7,"x":0.705,"y":0.78},{"p":7,"x":0.71,"y":0.77},{"p":7,"x":0.715,"y":0.8},{"p":7,"x":0.72,"y":0.82},{"p":7,"x":0.72,"y":0.79},{"p":7,"x":0.725,"y":0.76},{"p":7,"x":0.73,"y":0.81},{"p":7,"x":0.735,"y":0.8},{"p":7,"x":0.74,"y":0.795},{"p":7,"x":0.75,"y":0.84},{"p":7,"x":0.755,"y":0.85},{"p":7,"x":0.76,"y":0.82},{"p":7,"x":0.79,"y":0.847},{"p":7,"x":0.64,"y":0.61},{"p":7,"x":0.66,"y":0.6},{"p":7,"x":0.62,"y":0.6},{"p":7,"x":0.68,"y":0.65},{"p":7,"x":0.69,"y":0.7},{"p":7,"x":0.705,"y":0.72},{"p":7,"x":0.73,"y":0.78},{"p":7,"x":0.645,"y":0.76},{"p":7,"x":0.6,"y":0.66},{"p":7,"x":0.58,"y":0.66},{"p":7,"x":0.675,"y":0.73},{"p":7,"x":0.655,"y":0.72},
{"p":7,"x":0.62,"y":0.69},{"p":7,"x":0.625,"y":0.72},{"p":7,"x":0.63,"y":0.69},{"p":7,"x":0.635,"y":0.71},{"p":7,"x":0.64,"y":0.7},{"p":7,"x":0.645,"y":0.69},{"p":7,"x":0.65,"y":0.72},{"p":7,"x":0.655,"y":0.74},{"p":7,"x":0.66,"y":0.7},{"p":7,"x":0.665,"y":0.72},{"p":7,"x":0.67,"y":0.74},{"p":7,"x":0.675,"y":0.71},{"p":7,"x":0.68,"y":0.76},{"p":7,"x":0.685,"y":0.77},{"p":7,"x":0.69,"y":0.74},{"p":7,"x":0.695,"y":0.78},{"p":7,"x":0.7,"y":0.76},{"p":7,"x":0.705,"y":0.8},{"p":7,"x":0.71,"y":0.79},{"p":7,"x":0.715,"y":0.77},{"p":7,"x":0.72,"y":0.8},{"p":7,"x":0.725,"y":0.8},{"p":7,"x":0.73,"y":0.795},{"p":7,"x":0.74,"y":0.78},{"p":7,"x":0.61,"y":0.68},{"p":7,"x":0.605,"y":0.64},{"p":7,"x":0.6,"y":0.68},{"p":7,"x":0.595,"y":0.66},{"p":7,"x":0.59,"y":0.66},{"p":7,"x":0.615,"y":0.72},{"p":7,"x":0.63,"y":0.67},{"p":7,"x":0.64,"y":0.68},{"p":7,"x":0.65,"y":0.67},{"p":7,"x":0.66,"y":0.68},
{"p":8,"x":0.362,"y":0.447},{"p":8,"x":0.395,"y":0.425},{"p":8,"x":0.41,"y":0.273},{"p":8,"x":0.42,"y":0.445},{"p":8,"x":0.427,"y":0.418},{"p":8,"x":0.43,"y":0.372},{"p":8,"x":0.432,"y":0.368},{"p":8,"x":0.433,"y":0.42},{"p":8,"x":0.48,"y":0.377},{"p":8,"x":0.49,"y":0.397},{"p":8,"x":0.485,"y":0.47},{"p":8,"x":0.475,"y":0.48},{"p":8,"x":0.528,"y":0.483},{"p":8,"x":0.495,"y":0.51},{"p":8,"x":0.51,"y":0.52},{"p":8,"x":0.46,"y":0.5},{"p":8,"x":0.435,"y":0.533},
{"p":8,"x":0.45,"y":0.54},{"p":8,"x":0.46,"y":0.56},{"p":8,"x":0.47,"y":0.55},{"p":8,"x":0.47,"y":0.575},{"p":8,"x":0.475,"y":0.53},{"p":8,"x":0.48,"y":0.55},{"p":8,"x":0.485,"y":0.58},{"p":8,"x":0.49,"y":0.6},{"p":8,"x":0.49,"y":0.55},{"p":8,"x":0.495,"y":0.62},{"p":8,"x":0.5,"y":0.58},{"p":8,"x":0.5,"y":0.64},{"p":8,"x":0.505,"y":0.6},{"p":8,"x":0.51,"y":0.62},{"p":8,"x":0.51,"y":0.58},{"p":8,"x":0.515,"y":0.66},{"p":8,"x":0.52,"y":0.62},{"p":8,"x":0.52,"y":0.6},{"p":8,"x":0.525,"y":0.7},{"p":8,"x":0.525,"y":0.65},{"p":8,"x":0.53,"y":0.68},{"p":8,"x":0.53,"y":0.63},{"p":8,"x":0.535,"y":0.62},{"p":8,"x":0.54,"y":0.66},{"p":8,"x":0.54,"y":0.7},{"p":8,"x":0.545,"y":0.64},{"p":8,"x":0.55,"y":0.69},{"p":8,"x":0.55,"y":0.61},{"p":8,"x":0.555,"y":0.755},{"p":8,"x":0.555,"y":0.66},{"p":8,"x":0.56,"y":0.7},{"p":8,"x":0.56,"y":0.64},{"p":8,"x":0.565,"y":0.72},{"p":8,"x":0.57,"y":0.77},{"p":8,"x":0.57,"y":0.68},{"p":8,"x":0.575,"y":0.6},{"p":8,"x":0.575,"y":0.72},{"p":8,"x":0.58,"y":0.79},{"p":8,"x":0.58,"y":0.74},{"p":8,"x":0.585,"y":0.7},{"p":8,"x":0.59,"y":0.77},{"p":8,"x":0.59,"y":0.72},{"p":8,"x":0.595,"y":0.68},{"p":8,"x":0.6,"y":0.79},{"p":8,"x":0.6,"y":0.75},{"p":8,"x":0.6,"y":0.72},{"p":8,"x":0.605,"y":0.7},{"p":8,"x":0.61,"y":0.77},{"p":8,"x":0.61,"y":0.65},{"p":8,"x":0.615,"y":0.74},{"p":8,"x":0.62,"y":0.76},{"p":8,"x":0.62,"y":0.72},{"p":8,"x":0.625,"y":0.67},{"p":8,"x":0.63,"y":0.8},{"p":8,"x":0.63,"y":0.74},{"p":8,"x":0.64,"y":0.79},{"p":8,"x":0.64,"y":0.76},{"p":8,"x":0.645,"y":0.72},{"p":8,"x":0.65,"y":0.78},{"p":8,"x":0.655,"y":0.8},{"p":8,"x":0.66,"y":0.77},{"p":8,"x":0.67,"y":0.73},{"p":8,"x":0.675,"y":0.78},{"p":8,"x":0.68,"y":0.8},{"p":8,"x":0.695,"y":0.79},{"p":8,"x":0.72,"y":0.82},{"p":8,"x":0.733,"y":0.835},{"p":8,"x":0.585,"y":0.58},{"p":8,"x":0.57,"y":0.565},{"p":8,"x":0.6,"y":0.63},{"p":8,"x":0.61,"y":0.62},{"p":8,"x":0.535,"y":0.58},{"p":8,"x":0.555,"y":0.57},{"p":8,"x":0.545,"y":0.55},{"p":8,"x":0.63,"y":0.71},{"p":8,"x":0.66,"y":0.72},{"p":8,"x":0.59,"y":0.585},
{"p":8,"x":0.52,"y":0.64},{"p":8,"x":0.525,"y":0.62},{"p":8,"x":0.53,"y":0.66},{"p":8,"x":0.535,"y":0.65},{"p":8,"x":0.54,"y":0.63},{"p":8,"x":0.545,"y":0.67},{"p":8,"x":0.55,"y":0.65},{"p":8,"x":0.555,"y":0.68},{"p":8,"x":0.56,"y":0.67},{"p":8,"x":0.565,"y":0.66},{"p":8,"x":0.57,"y":0.7},{"p":8,"x":0.575,"y":0.68},{"p":8,"x":0.58,"y":0.71},{"p":8,"x":0.585,"y":0.73},{"p":8,"x":0.59,"y":0.75},{"p":8,"x":0.595,"y":0.72},{"p":8,"x":0.6,"y":0.73},{"p":8,"x":0.605,"y":0.76},{"p":8,"x":0.61,"y":0.72},{"p":8,"x":0.615,"y":0.71},{"p":8,"x":0.62,"y":0.74},{"p":8,"x":0.625,"y":0.76},{"p":8,"x":0.63,"y":0.76},{"p":8,"x":0.635,"y":0.73},{"p":8,"x":0.64,"y":0.75},{"p":8,"x":0.65,"y":0.76},{"p":8,"x":0.66,"y":0.75},{"p":8,"x":0.505,"y":0.62},{"p":8,"x":0.51,"y":0.6},{"p":8,"x":0.5,"y":0.6},{"p":8,"x":0.495,"y":0.57},{"p":8,"x":0.49,"y":0.57},{"p":8,"x":0.48,"y":0.58},{"p":8,"x":0.47,"y":0.56},{"p":8,"x":0.53,"y":0.6},
{"p":9,"x":0.315,"y":0.35},{"p":9,"x":0.322,"y":0.345},{"p":9,"x":0.347,"y":0.203},{"p":9,"x":0.347,"y":0.375},{"p":9,"x":0.345,"y":0.385},{"p":9,"x":0.355,"y":0.445},{"p":9,"x":0.368,"y":0.268},{"p":9,"x":0.375,"y":0.4},{"p":9,"x":0.382,"y":0.33},{"p":9,"x":0.39,"y":0.355},{"p":9,"x":0.393,"y":0.41},{"p":9,"x":0.397,"y":0.4},{"p":9,"x":0.418,"y":0.415},{"p":9,"x":0.43,"y":0.375},{"p":9,"x":0.44,"y":0.385},{"p":9,"x":0.44,"y":0.405},{"p":9,"x":0.463,"y":0.325},{"p":9,"x":0.51,"y":0.42},{"p":9,"x":0.497,"y":0.455},{"p":9,"x":0.49,"y":0.47},{"p":9,"x":0.385,"y":0.525},{"p":9,"x":0.55,"y":0.52},{"p":9,"x":0.45,"y":0.44},
{"p":9,"x":0.39,"y":0.48},{"p":9,"x":0.395,"y":0.53},{"p":9,"x":0.4,"y":0.455},{"p":9,"x":0.405,"y":0.47},{"p":9,"x":0.41,"y":0.5},{"p":9,"x":0.41,"y":0.54},{"p":9,"x":0.415,"y":0.49},{"p":9,"x":0.42,"y":0.52},{"p":9,"x":0.42,"y":0.455},{"p":9,"x":0.425,"y":0.585},{"p":9,"x":0.425,"y":0.53},{"p":9,"x":0.43,"y":0.5},{"p":9,"x":0.43,"y":0.62},{"p":9,"x":0.435,"y":0.55},{"p":9,"x":0.435,"y":0.48},{"p":9,"x":0.44,"y":0.52},{"p":9,"x":0.44,"y":0.56},{"p":9,"x":0.445,"y":0.5},{"p":9,"x":0.45,"y":0.54},{"p":9,"x":0.45,"y":0.58},{"p":9,"x":0.455,"y":0.52},{"p":9,"x":0.455,"y":0.6},{"p":9,"x":0.46,"y":0.55},{"p":9,"x":0.46,"y":0.5},{"p":9,"x":0.465,"y":0.63},{"p":9,"x":0.47,"y":0.57},{"p":9,"x":0.47,"y":0.52},{"p":9,"x":0.475,"y":0.68},{"p":9,"x":0.475,"y":0.6},{"p":9,"x":0.48,"y":0.55},{"p":9,"x":0.48,"y":0.63},{"p":9,"x":0.485,"y":0.58},{"p":9,"x":0.49,"y":0.62},{"p":9,"x":0.49,"y":0.53},{"p":9,"x":0.495,"y":0.66},{"p":9,"x":0.5,"y":0.6},{"p":9,"x":0.5,"y":0.56},{"p":9,"x":0.505,"y":0.64},{"p":9,"x":0.51,"y":0.58},{"p":9,"x":0.51,"y":0.68},{"p":9,"x":0.515,"y":0.62},{"p":9,"x":0.52,"y":0.72},{"p":9,"x":0.52,"y":0.6},{"p":9,"x":0.525,"y":0.66},{"p":9,"x":0.53,"y":0.7},{"p":9,"x":0.53,"y":0.63},{"p":9,"x":0.535,"y":0.72},{"p":9,"x":0.54,"y":0.67},{"p":9,"x":0.545,"y":0.76},{"p":9,"x":0.545,"y":0.62},{"p":9,"x":0.55,"y":0.65},{"p":9,"x":0.555,"y":0.6},{"p":9,"x":0.56,"y":0.66},{"p":9,"x":0.565,"y":0.68},{"p":9,"x":0.57,"y":0.65},{"p":9,"x":0.58,"y":0.69},{"p":9,"x":0.592,"y":0.713},{"p":9,"x":0.598,"y":0.704},{"p":9,"x":0.609,"y":0.77},{"p":9,"x":0.609,"y":0.746},{"p":9,"x":0.615,"y":0.72},{"p":9,"x":0.63,"y":0.70},{"p":9,"x":0.634,"y":0.71},{"p":9,"x":0.657,"y":0.728},{"p":9,"x":0.657,"y":0.716},{"p":9,"x":0.671,"y":0.74},{"p":9,"x":0.681,"y":0.743},{"p":9,"x":0.694,"y":0.754},{"p":9,"x":0.6,"y":0.69},{"p":9,"x":0.545,"y":0.58},{"p":9,"x":0.505,"y":0.5},{"p":9,"x":0.48,"y":0.5},{"p":9,"x":0.525,"y":0.54},{"p":9,"x":0.43,"y":0.45},{"p":9,"x":0.465,"y":0.475},
{"p":9,"x":0.43,"y":0.52},{"p":9,"x":0.435,"y":0.51},{"p":9,"x":0.44,"y":0.54},{"p":9,"x":0.445,"y":0.53},{"p":9,"x":0.45,"y":0.51},{"p":9,"x":0.455,"y":0.55},{"p":9,"x":0.46,"y":0.53},{"p":9,"x":0.465,"y":0.56},{"p":9,"x":0.47,"y":0.54},{"p":9,"x":0.475,"y":0.56},{"p":9,"x":0.48,"y":0.58},{"p":9,"x":0.485,"y":0.55},{"p":9,"x":0.49,"y":0.57},{"p":9,"x":0.495,"y":0.59},{"p":9,"x":0.5,"y":0.62},{"p":9,"x":0.505,"y":0.6},{"p":9,"x":0.51,"y":0.61},{"p":9,"x":0.515,"y":0.59},{"p":9,"x":0.52,"y":0.63},{"p":9,"x":0.525,"y":0.62},{"p":9,"x":0.53,"y":0.66},{"p":9,"x":0.535,"y":0.65},{"p":9,"x":0.54,"y":0.62},{"p":9,"x":0.55,"y":0.68},{"p":9,"x":0.56,"y":0.64},{"p":9,"x":0.57,"y":0.67},{"p":9,"x":0.58,"y":0.66},{"p":9,"x":0.42,"y":0.5},{"p":9,"x":0.415,"y":0.52},{"p":9,"x":0.44,"y":0.47},{"p":9,"x":0.45,"y":0.48},{"p":9,"x":0.46,"y":0.52},{"p":9,"x":0.47,"y":0.5},{"p":9,"x":0.5,"y":0.53},{"p":9,"x":0.52,"y":0.56},
{"p":10,"x":0.265,"y":0.332},{"p":10,"x":0.278,"y":0.248},{"p":10,"x":0.28,"y":0.172},{"p":10,"x":0.28,"y":0.375},{"p":10,"x":0.29,"y":0.38},{"p":10,"x":0.3,"y":0.34},{"p":10,"x":0.31,"y":0.38},{"p":10,"x":0.315,"y":0.335},{"p":10,"x":0.32,"y":0.305},{"p":10,"x":0.33,"y":0.37},{"p":10,"x":0.35,"y":0.345},{"p":10,"x":0.35,"y":0.38},{"p":10,"x":0.375,"y":0.375},{"p":10,"x":0.385,"y":0.325},{"p":10,"x":0.41,"y":0.385},{"p":10,"x":0.413,"y":0.3},{"p":10,"x":0.43,"y":0.43},{"p":10,"x":0.44,"y":0.44},{"p":10,"x":0.415,"y":0.455},{"p":10,"x":0.425,"y":0.45},{"p":10,"x":0.482,"y":0.797},{"p":10,"x":0.51,"y":0.51},{"p":10,"x":0.48,"y":0.52},{"p":10,"x":0.47,"y":0.5},{"p":10,"x":0.345,"y":0.36},{"p":10,"x":0.365,"y":0.4},
{"p":10,"x":0.3,"y":0.385},{"p":10,"x":0.31,"y":0.43},{"p":10,"x":0.315,"y":0.44},{"p":10,"x":0.32,"y":0.455},{"p":10,"x":0.325,"y":0.46},{"p":10,"x":0.33,"y":0.42},{"p":10,"x":0.335,"y":0.5},{"p":10,"x":0.34,"y":0.44},{"p":10,"x":0.345,"y":0.42},{"p":10,"x":0.35,"y":0.5},{"p":10,"x":0.355,"y":0.47},{"p":10,"x":0.36,"y":0.43},{"p":10,"x":0.365,"y":0.46},{"p":10,"x":0.37,"y":0.48},{"p":10,"x":0.375,"y":0.52},{"p":10,"x":0.38,"y":0.545},{"p":10,"x":0.38,"y":0.49},{"p":10,"x":0.385,"y":0.5},{"p":10,"x":0.39,"y":0.58},{"p":10,"x":0.39,"y":0.51},{"p":10,"x":0.395,"y":0.55},{"p":10,"x":0.395,"y":0.46},{"p":10,"x":0.4,"y":0.6},{"p":10,"x":0.4,"y":0.53},{"p":10,"x":0.405,"y":0.56},{"p":10,"x":0.405,"y":0.49},{"p":10,"x":0.41,"y":0.58},{"p":10,"x":0.41,"y":0.52},{"p":10,"x":0.415,"y":0.5},{"p":10,"x":0.42,"y":0.6},{"p":10,"x":0.42,"y":0.55},{"p":10,"x":0.425,"y":0.57},{"p":10,"x":0.425,"y":0.51},{"p":10,"x":0.43,"y":0.62},{"p":10,"x":0.43,"y":0.54},{"p":10,"x":0.435,"y":0.58},{"p":10,"x":0.44,"y":0.655},{"p":10,"x":0.44,"y":0.6},{"p":10,"x":0.445,"y":0.68},{"p":10,"x":0.445,"y":0.57},{"p":10,"x":0.45,"y":0.63},{"p":10,"x":0.45,"y":0.55},{"p":10,"x":0.455,"y":0.6},{"p":10,"x":0.46,"y":0.65},{"p":10,"x":0.46,"y":0.57},{"p":10,"x":0.465,"y":0.62},{"p":10,"x":0.47,"y":0.6},{"p":10,"x":0.475,"y":0.63},{"p":10,"x":0.48,"y":0.65},{"p":10,"x":0.48,"y":0.59},{"p":10,"x":0.485,"y":0.62},{"p":10,"x":0.49,"y":0.72},{"p":10,"x":0.49,"y":0.66},{"p":10,"x":0.495,"y":0.6},{"p":10,"x":0.5,"y":0.64},{"p":10,"x":0.505,"y":0.7},{"p":10,"x":0.51,"y":0.62},{"p":10,"x":0.52,"y":0.69},{"p":10,"x":0.52,"y":0.73},{"p":10,"x":0.525,"y":0.65},{"p":10,"x":0.53,"y":0.6},{"p":10,"x":0.54,"y":0.69},{"p":10,"x":0.545,"y":0.765},{"p":10,"x":0.545,"y":0.64},{"p":10,"x":0.55,"y":0.77},{"p":10,"x":0.555,"y":0.74},{"p":10,"x":0.56,"y":0.7},{"p":10,"x":0.565,"y":0.62},{"p":10,"x":0.57,"y":0.7},{"p":10,"x":0.575,"y":0.76},{"p":10,"x":0.58,"y":0.73},{"p":10,"x":0.585,"y":0.68},{"p":10,"x":0.59,"y":0.66},{"p":10,"x":0.6,"y":0.73},{"p":10,"x":0.605,"y":0.72},{"p":10,"x":0.62,"y":0.74},{"p":10,"x":0.658,"y":0.755},{"p":10,"x":0.66,"y":0.745},{"p":10,"x":0.56,"y":0.625},{"p":10,"x":0.5,"y":0.58},{"p":10,"x":0.46,"y":0.53},{"p":10,"x":0.43,"y":0.5},
{"p":10,"x":0.38,"y":0.51},{"p":10,"x":0.385,"y":0.53},{"p":10,"x":0.39,"y":0.49},{"p":10,"x":0.395,"y":0.52},{"p":10,"x":0.4,"y":0.5},{"p":10,"x":0.405,"y":0.53},{"p":10,"x":0.41,"y":0.55},{"p":10,"x":0.415,"y":0.53},{"p":10,"x":0.42,"y":0.52},{"p":10,"x":0.425,"y":0.54},{"p":10,"x":0.43,"y":0.56},{"p":10,"x":0.435,"y":0.55},{"p":10,"x":0.44,"y":0.57},{"p":10,"x":0.445,"y":0.6},{"p":10,"x":0.45,"y":0.58},{"p":10,"x":0.455,"y":0.57},{"p":10,"x":0.46,"y":0.6},{"p":10,"x":0.465,"y":0.58},{"p":10,"x":0.47,"y":0.62},{"p":10,"x":0.475,"y":0.6},{"p":10,"x":0.48,"y":0.61},{"p":10,"x":0.485,"y":0.65},{"p":10,"x":0.49,"y":0.62},{"p":10,"x":0.495,"y":0.63},{"p":10,"x":0.5,"y":0.66},{"p":10,"x":0.51,"y":0.65},{"p":10,"x":0.52,"y":0.66},{"p":10,"x":0.53,"y":0.67},{"p":10,"x":0.54,"y":0.66},{"p":10,"x":0.36,"y":0.47},{"p":10,"x":0.37,"y":0.45},{"p":10,"x":0.35,"y":0.44},{"p":10,"x":0.34,"y":0.47},{"p":10,"x":0.33,"y":0.45},{"p":10,"x":0.4,"y":0.56},{"p":10,"x":0.41,"y":0.6}
]
},
"concat":[
{"title":{"text":["BIG","r = 0.81"]},"width":163,"height":149,"layer":[
{"data":{"name":"pts"},"transform":[{"filter":"datum.p==1"}],"mark":{"type":"circle","size":18,"opacity":0.5,"color":"#1f77b4"},"encoding":{"x":{"field":"x","type":"quantitative","title":"Training diet: All","scale":{"domain":[0.344,0.71],"nice":false,"zero":false},"axis":{"values":[0.4,0.5,0.6,0.7],"format":".1f","labelOverlap":false,"tickCount":20}},"y":{"field":"y","type":"quantitative","title":"Training diet: Animals","scale":{"domain":[0.218,0.925],"nice":false,"zero":false},"axis":{"values":[0.3,0.4,0.5,0.6,0.7,0.8,0.9],"format":".1f","labelOverlap":false,"tickCount":20}}}},
{"data":{"name":"fit"},"transform":[{"filter":"datum.p==1"}],"mark":{"type":"line","color":"#1f77b4","strokeWidth":1.1},"encoding":{"x":{"field":"x","type":"quantitative"},"y":{"field":"y","type":"quantitative"}}}]},
{"title":{"text":["SMALL","r = 0.77"]},"width":163,"height":149,"layer":[
{"data":{"name":"pts"},"transform":[{"filter":"datum.p==2"}],"mark":{"type":"circle","size":18,"opacity":0.5,"color":"#1f77b4"},"encoding":{"x":{"field":"x","type":"quantitative","title":"Training diet: All","scale":{"domain":[0.355,0.682],"nice":false,"zero":false},"axis":{"values":[0.4,0.45,0.5,0.55,0.6,0.65],"format":".2f","labelOverlap":false,"tickCount":20}},"y":{"field":"y","type":"quantitative","title":"Training diet: Animals","scale":{"domain":[0.216,0.899],"nice":false,"zero":false},"axis":{"values":[0.3,0.4,0.5,0.6,0.7,0.8],"format":".1f","labelOverlap":false,"tickCount":20}}}},
{"data":{"name":"fit"},"transform":[{"filter":"datum.p==2"}],"mark":{"type":"line","color":"#1f77b4","strokeWidth":1.1},"encoding":{"x":{"field":"x","type":"quantitative"},"y":{"field":"y","type":"quantitative"}}}]},
{"title":{"text":["SUPERVISED_CNNS","r = 0.91"]},"width":163,"height":149,"layer":[
{"data":{"name":"pts"},"transform":[{"filter":"datum.p==3"}],"mark":{"type":"circle","size":18,"opacity":0.5,"color":"#1f77b4"},"encoding":{"x":{"field":"x","type":"quantitative","title":"Training diet: All","scale":{"domain":[0.4467,0.7596],"nice":false,"zero":false},"axis":{"values":[0.45,0.5,0.55,0.6,0.65,0.7,0.75],"format":".2f","labelOverlap":false,"tickCount":20}},"y":{"field":"y","type":"quantitative","title":"Training diet: Animals","scale":{"domain":[0.273,0.874],"nice":false,"zero":false},"axis":{"values":[0.3,0.4,0.5,0.6,0.7,0.8],"format":".1f","labelOverlap":false,"tickCount":20}}}},
{"data":{"name":"fit"},"transform":[{"filter":"datum.p==3"}],"mark":{"type":"line","color":"#1f77b4","strokeWidth":1.1},"encoding":{"x":{"field":"x","type":"quantitative"},"y":{"field":"y","type":"quantitative"}}}]},
{"title":{"text":["SUPERVISED_TRANSFORMERS","r = 0.78"]},"width":163,"height":149,"layer":[
{"data":{"name":"pts"},"transform":[{"filter":"datum.p==4"}],"mark":{"type":"circle","size":18,"opacity":0.5,"color":"#1f77b4"},"encoding":{"x":{"field":"x","type":"quantitative","title":"Training diet: All","scale":{"domain":[0.365,0.707],"nice":false,"zero":false},"axis":{"values":[0.4,0.45,0.5,0.55,0.6,0.65,0.7],"format":".2f","labelOverlap":false,"tickCount":20}},"y":{"field":"y","type":"quantitative","title":"Training diet: Animals","scale":{"domain":[0.205,0.938],"nice":false,"zero":false},"axis":{"values":[0.3,0.4,0.5,0.6,0.7,0.8,0.9],"format":".1f","labelOverlap":false,"tickCount":20}}}},
{"data":{"name":"fit"},"transform":[{"filter":"datum.p==4"}],"mark":{"type":"line","color":"#1f77b4","strokeWidth":1.1},"encoding":{"x":{"field":"x","type":"quantitative"},"y":{"field":"y","type":"quantitative"}}}]},
{"title":{"text":["SUPERVISED_HYBRIDS","r = 0.50"]},"width":163,"height":149,"layer":[
{"data":{"name":"pts"},"transform":[{"filter":"datum.p==5"}],"mark":{"type":"circle","size":18,"opacity":0.5,"color":"#1f77b4"},"encoding":{"x":{"field":"x","type":"quantitative","title":"Training diet: All","scale":{"domain":[0.496,0.788],"nice":false,"zero":false},"axis":{"values":[0.5,0.55,0.6,0.65,0.7,0.75],"format":".2f","labelOverlap":false,"tickCount":20}},"y":{"field":"y","type":"quantitative","title":"Training diet: Animals","scale":{"domain":[0.415,0.975],"nice":false,"zero":false},"axis":{"values":[0.5,0.6,0.7,0.8,0.9],"format":".1f","labelOverlap":false,"tickCount":20}}}},
{"data":{"name":"fit"},"transform":[{"filter":"datum.p==5"}],"mark":{"type":"line","color":"#1f77b4","strokeWidth":1.1},"encoding":{"x":{"field":"x","type":"quantitative"},"y":{"field":"y","type":"quantitative"}}}]},
{"title":{"text":["SUPERVISED","r = 0.80"]},"width":163,"height":149,"layer":[
{"data":{"name":"pts"},"transform":[{"filter":"datum.p==6"}],"mark":{"type":"circle","size":18,"opacity":0.5,"color":"#1f77b4"},"encoding":{"x":{"field":"x","type":"quantitative","title":"Training diet: All","scale":{"domain":[0.356,0.682],"nice":false,"zero":false},"axis":{"values":[0.4,0.45,0.5,0.55,0.6,0.65],"format":".2f","labelOverlap":false,"tickCount":20}},"y":{"field":"y","type":"quantitative","title":"Training diet: Animals","scale":{"domain":[0.221,0.905],"nice":false,"zero":false},"axis":{"values":[0.3,0.4,0.5,0.6,0.7,0.8,0.9],"format":".1f","labelOverlap":false,"tickCount":20}}}},
{"data":{"name":"fit"},"transform":[{"filter":"datum.p==6"}],"mark":{"type":"line","color":"#1f77b4","strokeWidth":1.1},"encoding":{"x":{"field":"x","type":"quantitative"},"y":{"field":"y","type":"quantitative"}}}]},
{"title":{"text":["SELFSUPERVISED","r = 0.78"]},"width":163,"height":149,"layer":[
{"data":{"name":"pts"},"transform":[{"filter":"datum.p==7"}],"mark":{"type":"circle","size":18,"opacity":0.5,"color":"#1f77b4"},"encoding":{"x":{"field":"x","type":"quantitative","title":"Training diet: All","scale":{"domain":[0.463,0.813],"nice":false,"zero":false},"axis":{"values":[0.5,0.55,0.6,0.65,0.7,0.75],"format":".2f","labelOverlap":false,"tickCount":20}},"y":{"field":"y","type":"quantitative","title":"Training diet: Animals","scale":{"domain":[0.37,0.89],"nice":false,"zero":false},"axis":{"values":[0.4,0.5,0.6,0.7,0.8],"format":".1f","labelOverlap":false,"tickCount":20}}}},
{"data":{"name":"fit"},"transform":[{"filter":"datum.p==7"}],"mark":{"type":"line","color":"#1f77b4","strokeWidth":1.1},"encoding":{"x":{"field":"x","type":"quantitative"},"y":{"field":"y","type":"quantitative"}}}]},
{"title":{"text":["MISC1","r = 0.86"]},"width":163,"height":149,"layer":[
{"data":{"name":"pts"},"transform":[{"filter":"datum.p==8"}],"mark":{"type":"circle","size":18,"opacity":0.5,"color":"#1f77b4"},"encoding":{"x":{"field":"x","type":"quantitative","title":"Training diet: All","scale":{"domain":[0.347,0.747],"nice":false,"zero":false},"axis":{"values":[0.4,0.5,0.6,0.7],"format":".1f","labelOverlap":false,"tickCount":20}},"y":{"field":"y","type":"quantitative","title":"Training diet: Animals","scale":{"domain":[0.249,0.923],"nice":false,"zero":false},"axis":{"values":[0.3,0.4,0.5,0.6,0.7,0.8,0.9],"format":".1f","labelOverlap":false,"tickCount":20}}}},
{"data":{"name":"fit"},"transform":[{"filter":"datum.p==8"}],"mark":{"type":"line","color":"#1f77b4","strokeWidth":1.1},"encoding":{"x":{"field":"x","type":"quantitative"},"y":{"field":"y","type":"quantitative"}}}]},
{"title":{"text":["MISC2","r = 0.84"]},"width":163,"height":149,"layer":[
{"data":{"name":"pts"},"transform":[{"filter":"datum.p==9"}],"mark":{"type":"circle","size":18,"opacity":0.5,"color":"#1f77b4"},"encoding":{"x":{"field":"x","type":"quantitative","title":"Training diet: All","scale":{"domain":[0.298,0.708],"nice":false,"zero":false},"axis":{"values":[0.3,0.4,0.5,0.6],"format":".1f","labelOverlap":false,"tickCount":20}},"y":{"field":"y","type":"quantitative","title":"Training diet: Animals","scale":{"domain":[0.174,0.858],"nice":false,"zero":false},"axis":{"values":[0.2,0.3,0.4,0.5,0.6,0.7,0.8],"format":".1f","labelOverlap":false,"tickCount":20}}}},
{"data":{"name":"fit"},"transform":[{"filter":"datum.p==9"}],"mark":{"type":"line","color":"#1f77b4","strokeWidth":1.1},"encoding":{"x":{"field":"x","type":"quantitative"},"y":{"field":"y","type":"quantitative"}}}]},
{"title":{"text":["MISC3","r = 0.87"]},"width":163,"height":149,"layer":[
{"data":{"name":"pts"},"transform":[{"filter":"datum.p==10"}],"mark":{"type":"circle","size":18,"opacity":0.5,"color":"#1f77b4"},"encoding":{"x":{"field":"x","type":"quantitative","title":"Training diet: All","scale":{"domain":[0.24,0.681],"nice":false,"zero":false},"axis":{"values":[0.3,0.4,0.5,0.6],"format":".1f","labelOverlap":false,"tickCount":20}},"y":{"field":"y","type":"quantitative","title":"Training diet: Animals","scale":{"domain":[0.143,0.864],"nice":false,"zero":false},"axis":{"values":[0.2,0.3,0.4,0.5,0.6,0.7,0.8],"format":".1f","labelOverlap":false,"tickCount":20}}}},
{"data":{"name":"fit"},"transform":[{"filter":"datum.p==10"}],"mark":{"type":"line","color":"#1f77b4","strokeWidth":1.1},"encoding":{"x":{"field":"x","type":"quantitative"},"y":{"field":"y","type":"quantitative"}}}]}
],
"config":{
"font":"DejaVu Sans",
"background":"#ffffff",
"view":{"stroke":"#000000","strokeWidth":0.8},
"axis":{"grid":false,"domain":false,"ticks":true,"tickColor":"#000000","tickSize":3.5,"tickWidth":0.8,"labelFontSize":8,"labelColor":"#000000","labelFont":"DejaVu Sans","labelPadding":1.5,"labelOverlap":false,"labelFlush":false,"labelBound":false,"titleFontSize":8,"titleFontWeight":"normal","titleColor":"#000000","titleFont":"DejaVu Sans"},
"axisX":{"titlePadding":1.5},
"axisY":{"titlePadding":0},
"title":{"fontSize":7.5,"fontWeight":"normal","anchor":"middle","offset":-2,"lineHeight":8.5,"color":"#000000","font":"DejaVu Sans"}
}
}
